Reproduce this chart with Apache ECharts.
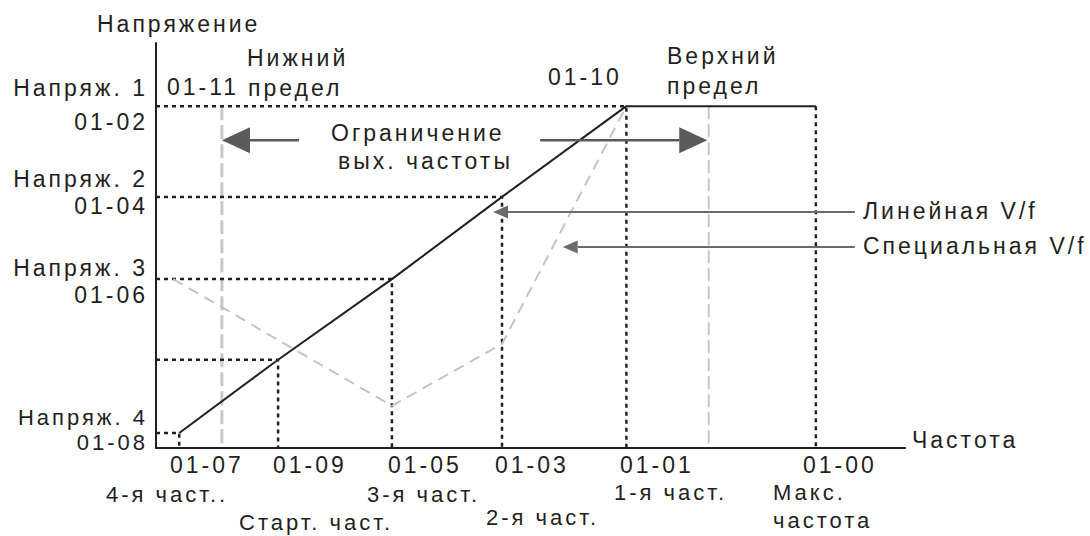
<!DOCTYPE html>
<html>
<head>
<meta charset="utf-8">
<script src="https://cdn.jsdelivr.net/npm/echarts@6/dist/echarts.min.js"></script>
<style>
html,body{margin:0;padding:0;background:#fff;}
#chart{width:1090px;height:536px;}
#chart text{letter-spacing:3px;}
</style>
</head>
<body>
<div id="chart"></div>
<script>
// ---- data ----
const axisNames = ['Частота', 'Напряжение'];
const freqCodes = ['01-07', '01-09', '01-05', '01-03', '01-01', '01-00'];
const freqNames = ['4-я част..', 'Старт. част.', '3-я част.', '2-я част.', '1-я част.', 'Макс.', 'частота'];
const freqValues = [3.1, 16.3, 31.5, 46.2, 62.8, 88.1];
const voltNames = ['Напряж. 4', '', 'Напряж. 3', 'Напряж. 2', 'Напряж. 1'];
const voltCodes = ['01-08', '', '01-06', '01-04', '01-02'];
const voltValues = [3.7, 21.8, 41.7, 62.0, 84.4];
const limitCodes = ['01-11', '01-10'];
const limitNames = ['Нижний', 'предел', 'Верхний', 'предел'];
const limitValues = [8.8, 73.8];
const specialVF = [[2.3, 41.7], [31.5, 10.4], [46.2, 25.7], [62.8, 84.4]];
const limitArrowTexts = ['Ограничение', 'вых. частоты'];
const limitArrows = [[19.1, 76.0, 8.8, 76.0], [51.3, 76.0, 73.6, 76.0]];
const legendNames = ['Линейная V/f', 'Специальная V/f'];
const legendArrows = [[93.3, 58.3, 45.0, 58.3], [93.3, 49.6, 54.3, 49.6]];

// ---- derived ----
const linearVF = voltValues.map((v, i) => [freqValues[i], v]);
linearVF.push([freqValues[5], voltValues[4]]);
const guides = voltValues.map((v, i) => [[0, v], [freqValues[i], v], [freqValues[i], 0]]);
guides.push([[freqValues[5], voltValues[4]], [freqValues[5], 0]]);

const INK = '#231f20';
const FONT = '"Liberation Sans", Arial, sans-serif';
const texts = [];
function txt(s, x, y, align, size) {
  texts.push({type: 'text', x: x, y: y, silent: true, z: 50,
    style: {text: s, fontFamily: FONT, fontSize: size || 23, fill: INK,
      align: align || 'left', verticalAlign: 'middle'}});
}
txt(axisNames[1], 97, 24);
txt(axisNames[0], 912, 440);
// left labels
const voltLabelY = [[417, 442], null, [268, 295], [179, 206], [88, 122]];
voltLabelY.forEach((p, i) => {
  if (p) {
    const s = i === 0 ? 22 : 23;
    txt(voltNames[i], 148, p[0], 'right', s);
    txt(voltCodes[i], 148, p[1], 'right', s);
  }
});
// bottom labels
const codeX = [170, 273, 388, 495, 620, 803];
freqCodes.forEach((c, i) => txt(c, codeX[i], 465));
const nameXY = [[106, 494], [239, 522], [367, 494], [486, 517], [614, 492], [773, 492], [773, 520]];
freqNames.forEach((n, i) => txt(n, nameXY[i][0], nameXY[i][1], 'left', 22));
// limits
txt(limitNames[0], 247, 58); txt(limitCodes[0], 167, 87); txt(limitNames[1], 248, 88);
txt(limitCodes[1], 548, 77); txt(limitNames[2], 667, 56); txt(limitNames[3], 667, 86);
txt(limitArrowTexts[0], 331, 133); txt(limitArrowTexts[1], 338, 161);
txt(legendNames[0], 863, 211); txt(legendNames[1], 863, 246);

function arrowSeries(data, color, width, headLen, headHalf) {
  return {
    type: 'custom', coordinateSystem: 'cartesian2d', clip: false, silent: true, z: 10,
    encode: {x: [0, 2], y: [1, 3]},
    data: data,
    renderItem: function (params, api) {
      const p1 = api.coord([api.value(0), api.value(1)]);
      const p2 = api.coord([api.value(2), api.value(3)]);
      const dx = p2[0] - p1[0], dy = p2[1] - p1[1];
      const len = Math.sqrt(dx * dx + dy * dy);
      const ux = dx / len, uy = dy / len;
      const bx = p2[0] - ux * headLen, by = p2[1] - uy * headLen;
      return {type: 'group', children: [
        {type: 'line', shape: {x1: p1[0], y1: p1[1], x2: bx, y2: by}, style: {stroke: color, lineWidth: width}},
        {type: 'polygon', shape: {points: [[p2[0], p2[1]], [bx - uy * headHalf, by + ux * headHalf], [bx + uy * headHalf, by - ux * headHalf]]}, style: {fill: color}}
      ]};
    }
  };
}

const series = [];
guides.forEach(g => series.push({type: 'line', data: g, symbol: 'none', silent: true, z: 3,
  lineStyle: {color: INK, width: 2.5, type: [4, 4]}}));
series.push({type: 'line', data: [[limitValues[0], voltValues[4]], [limitValues[0], 0]], symbol: 'none', silent: true, z: 2,
  lineStyle: {color: '#c8c8c8', width: 3, type: [14, 5]}});
series.push({type: 'line', data: [[limitValues[1], voltValues[4]], [limitValues[1], 0]], symbol: 'none', silent: true, z: 2,
  lineStyle: {color: '#c8c8c8', width: 2, type: [13, 5]}});
series.push({type: 'line', data: specialVF, symbol: 'none', silent: true, z: 4,
  lineStyle: {color: '#c4c4c4', width: 2, type: [11, 7]}});
series.push({type: 'line', data: linearVF, symbol: 'none', silent: true, z: 6,
  lineStyle: {color: INK, width: 2}});
series.push(arrowSeries(limitArrows, '#5a5a5a', 2.5, 28, 13));
series.push(arrowSeries(legendArrows, '#6b6b6b', 2, 15, 6.5));

const chart = echarts.init(document.getElementById('chart'), null, {renderer: 'svg', width: 1090, height: 536});
chart.setOption({
  animation: false,
  backgroundColor: '#fff',
  grid: {left: 156, right: 185, top: 43, bottom: 88, outerBoundsMode: 'none', containLabel: false},
  xAxis: {type: 'value', min: 0, max: 100, axisLine: {show: true, onZero: false, lineStyle: {color: INK, width: 2}},
    axisTick: {show: false}, axisLabel: {show: false}, splitLine: {show: false}},
  yAxis: {type: 'value', min: 0, max: 100, axisLine: {show: true, onZero: false, lineStyle: {color: INK, width: 2}},
    axisTick: {show: false}, axisLabel: {show: false}, splitLine: {show: false}},
  series: series,
  graphic: texts
});
</script>
</body>
</html>
